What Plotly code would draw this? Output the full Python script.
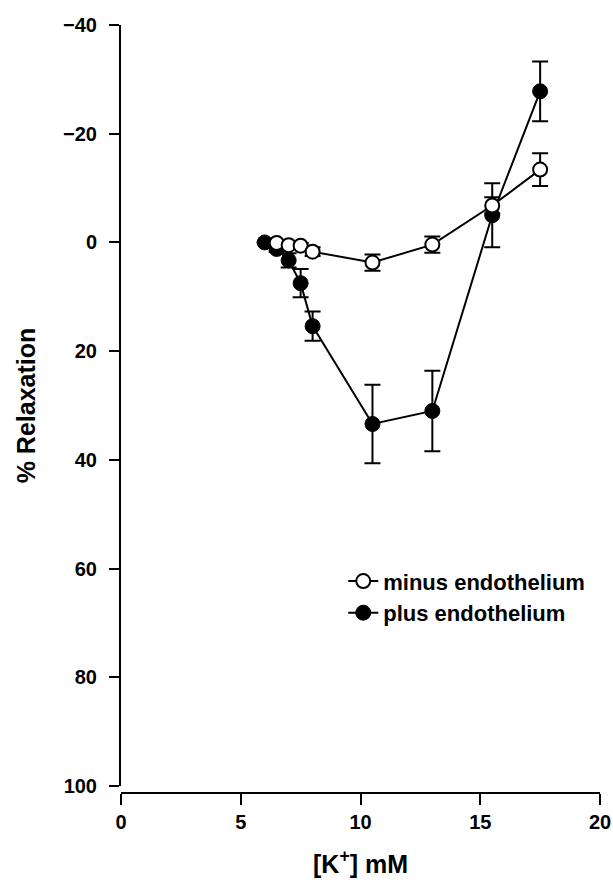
import plotly.graph_objects as go

# K+ concentration (mM) and % relaxation (mean, SEM)
k_minus = [6.5, 7.0, 7.5, 8.0, 10.5, 13.0, 15.5, 17.5]
relax_minus = [0.1, 0.5, 0.6, 1.7, 3.7, 0.4, -6.8, -13.4]
sem_minus = [0.4, 0.5, 0.5, 0.8, 1.5, 1.5, 1.5, 3.0]

k_plus = [6.0, 6.5, 7.0, 7.5, 8.0, 10.5, 13.0, 15.5, 17.5]
relax_plus = [0.0, 1.2, 3.3, 7.5, 15.4, 33.4, 31.0, -5.0, -27.8]
sem_plus = [0.0, 0.5, 1.3, 2.6, 2.7, 7.2, 7.4, 5.9, 5.5]

x_ticks = [0, 5, 10, 15, 20]
y_ticks = [-40, -20, 0, 20, 40, 60, 80, 100]

FONT = "Liberation Sans, Arial, sans-serif"
BLACK = "#000000"

fig = go.Figure()

fig.add_trace(go.Scatter(
    x=k_plus, y=relax_plus,
    mode="lines+markers",
    name="plus endothelium",
    legendrank=2,
    line=dict(color=BLACK, width=2),
    marker=dict(symbol="circle", size=15, color=BLACK,
                line=dict(color=BLACK, width=1)),
    error_y=dict(type="data", array=sem_plus, visible=True,
                 color=BLACK, thickness=2, width=8),
))

fig.add_trace(go.Scatter(
    x=k_minus, y=relax_minus,
    mode="lines+markers",
    name="minus endothelium",
    legendrank=1,
    line=dict(color=BLACK, width=2),
    marker=dict(symbol="circle", size=14, color="white",
                line=dict(color=BLACK, width=2)),
    error_y=dict(type="data", array=sem_minus, visible=True,
                 color=BLACK, thickness=2, width=8),
))

fig.update_layout(
    width=613, height=885,
    margin=dict(l=121, r=13, t=25, b=92, autoexpand=False),
    paper_bgcolor="white", plot_bgcolor="white",
    font=dict(family=FONT, color=BLACK, size=20, weight="bold"),
    showlegend=True,
    legend=dict(
        x=0.464, y=0.303, xanchor="left", yanchor="top",
        bgcolor="rgba(0,0,0,0)", borderwidth=0,
        font=dict(family=FONT, size=22, color=BLACK, weight="bold"),
        itemwidth=30, tracegroupgap=0,
    ),
    xaxis=dict(
        range=[0, 20], tickvals=x_ticks,
        anchor="free", position=0, automargin=False,
        showgrid=False, zeroline=False,
        showline=True, linecolor=BLACK, linewidth=2,
        ticks="outside", ticklen=11, tickwidth=2, tickcolor=BLACK,
        tickfont=dict(family=FONT, size=20, color=BLACK, weight="bold"),
        title=dict(text="[K<sup>+</sup>] mM", standoff=22,
                   font=dict(family=FONT, size=25, color=BLACK, weight="bold")),
    ),
    yaxis=dict(
        range=[100, -40], tickvals=y_ticks,
        domain=[0.0091, 1], automargin=False,
        showgrid=False, zeroline=False,
        showline=True, linecolor=BLACK, linewidth=2,
        ticks="outside", ticklen=10, tickwidth=2, tickcolor=BLACK,
        ticklabelstandoff=8,
        tickfont=dict(family=FONT, size=20, color=BLACK, weight="bold"),
        title=dict(text="% Relaxation", standoff=20,
                   font=dict(family=FONT, size=25, color=BLACK, weight="bold")),
    ),
)

fig.write_html("out.html")
